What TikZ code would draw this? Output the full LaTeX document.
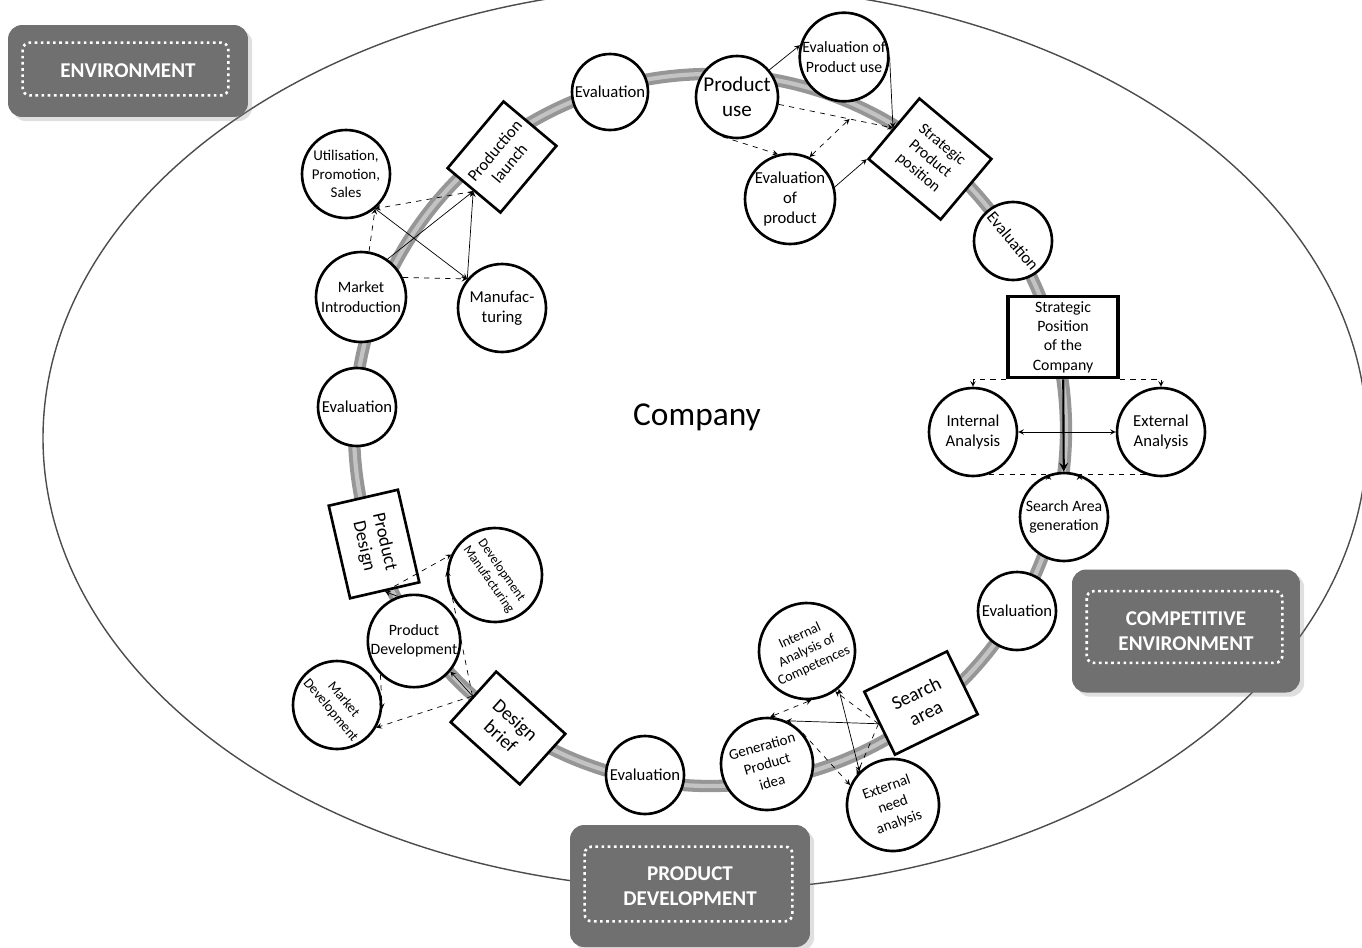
\documentclass[tikz,border=0pt]{standalone}
\usepackage{fontspec}
\setmainfont{Carlito}
\usetikzlibrary{shadows,calc}
\definecolor{tagfill}{RGB}{112,112,112}
\definecolor{ringdark}{RGB}{150,150,150}
\definecolor{ringlight}{RGB}{195,195,195}

\begin{document}
\begin{tikzpicture}[x=0.02cm, y=-0.02cm, >=stealth,
    every node/.style={font=\fontsize{9.5}{11.5}\selectfont},
    stage/.style={draw, circle, line width=1.5pt, fill=white, align=center, inner sep=0pt},
    block/.style={draw, rectangle, line width=1.5pt, fill=white, align=center, inner sep=0pt},
    link/.style={->, thin},
    dlink/.style={->, thin, dashed},
    tag/.style={fill=tagfill, rounded corners=8pt, text=white, align=center,
        font=\fontsize{12}{14}\selectfont\bfseries, drop shadow={opacity=0.25}},
    dots/.style={white, line width=1.5pt, dash pattern=on 1.5pt off 2pt, rounded corners=4pt}]
    \useasboundingbox (0,0) rectangle (1362,947);
    \clip (0,0) rectangle (1362,947);

    % environment and the cycle
    \draw[line width=0.8pt, black!70] (705,438) ellipse [x radius=662, y radius=452];
    \draw[line width=7pt, ringdark] (710,430) circle [radius=356];
    \draw[line width=2.4pt, ringlight] (710,430) circle [radius=356];
    \node[font=\fontsize{19}{22}\selectfont] (co) at (697,417) {Company};

    % labels
    \node[tag, minimum width=4.8cm, minimum height=1.84cm] (env) at (128,71) {ENVIRONMENT};
    \node[tag, minimum width=4.56cm, minimum height=2.46cm] (comp) at (1186,631) {COMPETITIVE\\ENVIRONMENT};
    \node[tag, minimum width=4.8cm, minimum height=2.44cm] (pdev) at (690,886) {PRODUCT\\DEVELOPMENT};
    \draw[dots] ([shift={(15,18)}]env.north west) rectangle ([shift={(-20,-22)}]env.south east);
    \draw[dots] ([shift={(15,22)}]comp.north west) rectangle ([shift={(-18,-30)}]comp.south east);
    \draw[dots] ([shift={(15,22)}]pdev.north west) rectangle ([shift={(-18,-26)}]pdev.south east);

    % top
    \node[stage, minimum size=1.52cm] (ev1) at (610,92) {Evaluation};
    \node[stage, minimum size=1.64cm, font=\fontsize{12}{14}\selectfont] (pu) at (737,97) {Product\\use};
    \node[stage, minimum size=1.76cm, font=\fontsize{9}{11}\selectfont] (epu) at (844,57) {Evaluation of\\Product use};
    \node[stage, minimum size=1.8cm] (eop) at (790,199) {Evaluation\\of\\product};
    \node[block, minimum width=1.88cm, minimum height=1.58cm, rotate=-40, font=\fontsize{9}{10.5}\selectfont] (spp) at (930,159) {Strategic\\Product\\position};
    \node[stage, minimum size=1.56cm, rotate=-50] (ev2) at (1013,241) {Evaluation};

    % right
    \node[block, line width=2pt, minimum width=2.2cm, minimum height=1.62cm, font=\fontsize{9}{11}\selectfont] (spc) at (1063,337) {Strategic\\Position\\of the\\Company};
    \node[stage, minimum size=1.76cm] (int) at (973,432) {Internal\\Analysis};
    \node[stage, minimum size=1.76cm] (ext) at (1161,432) {External\\Analysis};
    \node[stage, minimum size=1.76cm, font=\fontsize{9}{11}\selectfont] (sag) at (1064,517) {Search Area\\generation};
    \node[stage, minimum size=1.56cm] (ev3) at (1017,611) {Evaluation};

    % bottom right
    \node[block, minimum width=1.84cm, minimum height=1.4cm, rotate=26, font=\fontsize{11}{12.5}\selectfont] (sa) at (921,703) {Search\\area};
    \node[stage, minimum size=1.92cm, rotate=25, font=\fontsize{8}{9.5}\selectfont] (iac) at (807,651) {Internal\\Analysis of\\Competences};
    \node[stage, minimum size=1.84cm, rotate=16, font=\fontsize{8.5}{10.5}\selectfont] (gpi) at (767,764) {Generation\\Product\\idea};
    \node[stage, minimum size=1.84cm, rotate=20, font=\fontsize{8.5}{10.5}\selectfont] (ena) at (893,805) {External\\need\\analysis};
    \node[stage, minimum size=1.56cm] (ev4) at (645,775) {Evaluation};

    % bottom left
    \node[block, minimum width=1.86cm, minimum height=1.36cm, rotate=-42, font=\fontsize{11}{12.5}\selectfont] (db) at (508,728) {Design\\brief};
    \node[stage, minimum size=1.56cm, font=\fontsize{9}{11}\selectfont] (pdv) at (414,641) {Product\\Development};
    \node[stage, minimum size=1.88cm, rotate=-55, font=\fontsize{7.5}{9}\selectfont] (dm) at (495,575) {Development\\Manufacturing};
    \node[stage, minimum size=1.76cm, rotate=-50, font=\fontsize{8}{9.5}\selectfont] (md) at (337,705) {Market\\Development};
    \node[block, minimum width=1.9cm, minimum height=1.42cm, rotate=-77, font=\fontsize{10.5}{12}\selectfont] (pd) at (374,544) {Product\\Design};
    \node[stage, minimum size=1.56cm] (ev5) at (357,407) {Evaluation};

    % top left
    \node[stage, minimum size=1.8cm, font=\fontsize{9}{11}\selectfont] (mi) at (361,297) {Market\\Introduction};
    \node[stage, minimum size=1.76cm] (mf) at (502,308) {Manufac-\\turing};
    \node[stage, minimum size=1.76cm, font=\fontsize{8.5}{10.5}\selectfont] (ups) at (346,174) {Utilisation,\\Promotion,\\Sales};
    \node[block, minimum width=1.74cm, minimum height=1.38cm, rotate=50, font=\fontsize{9.5}{11}\selectfont] (pl) at (502,157) {Production\\launch};

    % links, top
    \coordinate (pm) at ($(pu.-10)!0.62!(spp.west)$);
    \draw[link] (pu.40) -- (epu.165);
    \draw[link] (epu.east) -- (spp.west);
    \draw[dlink] (pu.-10) -- (spp.west);
    \draw[dlink] (pu.-110) -- (eop.105);
    \draw[dlink, <->] (eop.65) -- (pm);
    \draw[link] (eop.15) -- (spp.south west);

    % links, right
    \draw[dlink] (spc.south west) -| (int.north);
    \draw[dlink] (spc.south east) -| (ext.north);
    \draw[<->, thin] (int) -- (ext);
    \draw[->, line width=1.2pt] (spc) -- (sag);
    \draw[dlink] (int.-70) -| (sag.110);
    \draw[dlink] (ext.-110) -| (sag.70);

    % links, bottom right
    \draw[dlink] (sa.west) -- (iac.-80);
    \draw[link] (sa.west) -- (gpi.50);
    \draw[dlink] (sa.west) -- (ena.120);
    \draw[<->, thin] (iac.-75) -- (ena.115);
    \draw[dlink, <->] (iac.-110) -- (gpi.70);
    \draw[dlink] (gpi.25) -- (ena.135);

    % links, bottom left
    \draw[link] (pdv.110) -- (pd.east);
    \draw[link] (db.west) -- (pdv.-40);
    \draw[dlink] (pd.east) -- (dm.-150);
    \draw[dlink] (db.west) -- (dm.-130);
    \draw[dlink] (db.west) -- (md.20);
    \draw[dlink] (pdv.-135) -- (md.45);

    % links, top left
    \draw[dlink] (pl.west) -- (ups.-50);
    \draw[dlink] (mi.80) -- (ups.-50);
    \draw[link] (mi.55) -- (pl.west);
    \draw[dlink] (mi.25) -- (mf.140);
    \draw[link] (ups.-50) -- (mf.140);
    \draw[link] (mf.140) -- (pl.west);
\end{tikzpicture}
\end{document}
